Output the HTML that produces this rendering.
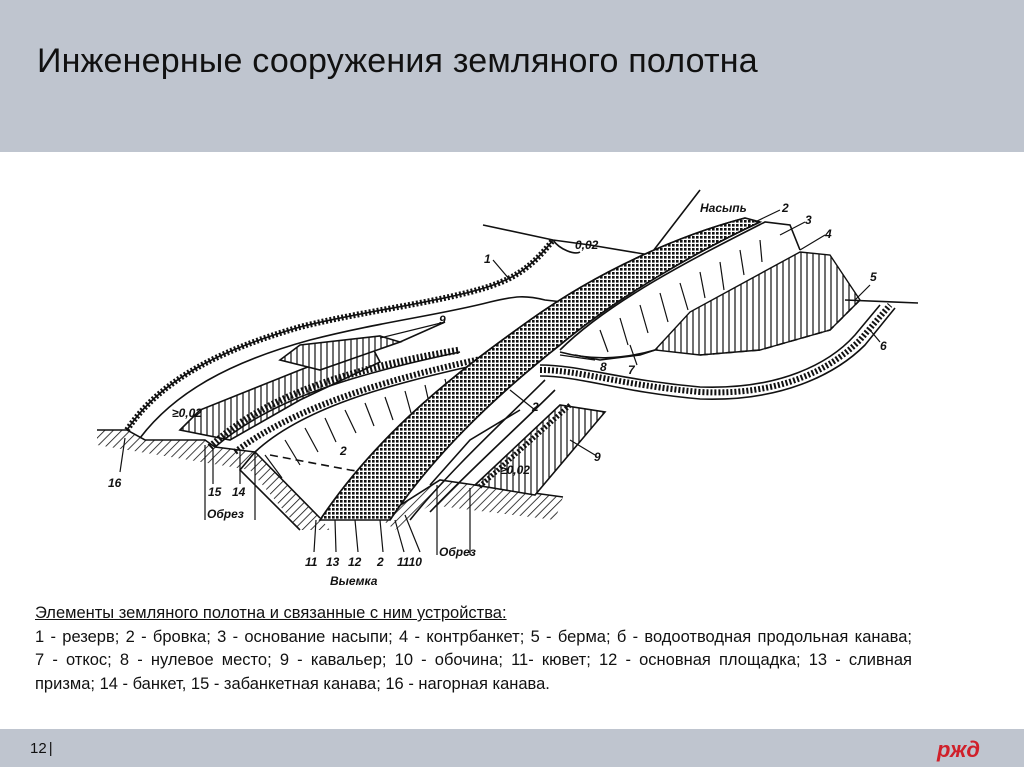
<!DOCTYPE html>
<html><head><meta charset="utf-8">
<style>
html,body{margin:0;padding:0;width:1024px;height:767px;overflow:hidden;background:#fff;font-family:"Liberation Sans","DejaVu Sans",sans-serif;}
#hdr{position:absolute;left:0;top:0;width:1024px;height:152px;background:#bfc5cf;}
#title{position:absolute;left:37px;top:42px;font-size:34px;color:#111;white-space:nowrap;letter-spacing:0.2px}
#ftr{position:absolute;left:0;top:729px;width:1024px;height:38px;background:#bfc5cf;}
#num{position:absolute;left:30px;top:740px;font-size:15px;color:#111}
.cap{position:absolute;left:35px;width:877px;font-size:16.5px;color:#111;white-space:nowrap;}
.j{text-align:justify;text-align-last:justify;}
svg{position:absolute;left:0;top:0}
.lb{font-family:"Liberation Sans",sans-serif;font-style:italic;font-weight:bold;font-size:12px;fill:#111}
</style></head><body>
<div id="hdr"><div id="title">Инженерные сооружения земляного полотна</div></div>

<svg width="1024" height="767" viewBox="0 0 1024 767">
<defs>
<pattern id="h" width="6" height="6" patternUnits="userSpaceOnUse" patternTransform="rotate(45)">
<line x1="0" y1="0" x2="0" y2="6" stroke="#111" stroke-width="1.6"/></pattern>
<pattern id="d" width="4" height="4" patternUnits="userSpaceOnUse">
<rect width="4" height="4" fill="#fff"/><rect width="2.6" height="2.6" fill="#111"/></pattern>
<pattern id="t" width="6" height="6" patternUnits="userSpaceOnUse">
<rect width="6" height="6" fill="#fff"/><line x1="3" y1="0" x2="3" y2="6" stroke="#111" stroke-width="1.2"/></pattern>
</defs>
<g fill="none" stroke="#111" stroke-width="1.6">
<path d="M97,430 L127,430 L145,440 L205,440 L215,447 L240,450 L255,452 L320,518 L330,530 L300,530 L250,470 L97,445 Z" fill="url(#h)" stroke="none"/>
<path d="M97,430 L127,430 L145,440 L205,440 L215,447 L255,452 L320,518"/>
<path d="M255,452 L240,470 L300,530" />
<path d="M380,518 L440,480 L475,485 L563,497 L555,520 L430,505 L395,530 Z" fill="url(#h)" stroke="none"/>
<path d="M380,518 L440,480 L475,485 L563,497"/>
<path d="M127,430 C160,380 220,350 300,327 C360,312 420,305 470,292 C510,282 530,270 553,240" stroke-width="6" stroke="#111" stroke-dasharray="2 2"/>
<path d="M127,430 C160,380 220,350 300,327 C360,312 420,305 470,292 C510,282 530,270 553,240"/>
<path d="M140,438 C175,392 230,362 310,340 C380,322 440,315 490,302 C515,296 525,295 545,300 L590,305 L640,258"/>
<path d="M483,225 L553,240 L590,245 L650,255 L700,190"/>
<path d="M553,240 C560,250 575,255 580,252"/>
<path d="M180,430 L200,410 L300,370 L370,343 L380,362 L300,400 L230,440 Z" fill="url(#t)"/>
<path d="M280,360 L300,345 L380,336 L400,342 L320,370 Z" fill="url(#t)"/>
<path d="M400,342 L445,322"/>
<path d="M210,447 C260,400 340,370 460,350" stroke-width="7" stroke-dasharray="2 2"/>
<path d="M215,447 C270,400 350,375 460,352"/>
<path d="M235,452 C290,410 380,380 490,357" stroke-width="6" stroke-dasharray="2 2"/>
<path d="M255,452 C300,410 380,385 500,360 C540,345 560,320 575,300"/>
<g stroke-width="1.2">
<path d="M265,455 L282,478 M285,440 L300,465 M305,428 L318,452 M325,418 L336,442 M345,410 L356,433 M365,403 L374,426 M385,397 L393,420 M405,391 L411,413 M425,385 L430,407 M445,379 L450,400 M465,373 L469,394"/>
</g>
<path d="M270,455 L350,470 L420,480" stroke-dasharray="8 5"/>
<path d="M320,520 C380,430 460,370 530,320 C600,270 680,235 745,218 L760,222 C700,250 620,295 560,345 C490,400 430,460 390,520 Z" fill="url(#d)"/>
<path d="M320,520 C380,430 460,370 530,320 C600,270 680,235 745,218"/>
<path d="M390,520 C430,460 490,400 560,345 C620,295 700,250 760,222"/>
<path d="M410,520 C450,470 505,420 545,380 M430,512 C470,470 520,425 555,390"/>
<path d="M560,350 C610,300 700,255 765,222 L790,225 L800,250"/>
<path d="M575,355 L600,360 L640,355 L655,350"/>
<g stroke-width="1.2">
<path d="M600,330 L608,352 M620,318 L628,345 M640,305 L648,333 M660,293 L668,322 M680,283 L688,310 M700,272 L705,298 M720,262 L724,290 M740,250 L744,275 M760,240 L762,262"/>
</g>
<path d="M655,350 L690,312 L800,252 L830,255 L860,300 L830,330 L760,350 L700,355 Z" fill="url(#t)" stroke-width="1.4"/>
<path d="M700,355 L760,350 L830,330 L860,300" stroke-dasharray="8 5"/>
<path d="M845,300 L918,303"/>
<path d="M540,370 C580,370 620,385 700,392 C780,396 830,370 860,340 L890,305" stroke-width="6" stroke-dasharray="2 2"/>
<path d="M540,365 C580,365 620,380 700,387 C780,390 830,363 855,335 L880,305"/>
<path d="M540,376 C580,376 620,392 700,399 C780,402 835,375 865,345 L895,308"/>
<path d="M655,350 C620,360 590,360 560,352"/>
<path d="M475,485 L560,405 L605,412 L535,495 Z" fill="url(#t)"/>
<path d="M570,405 L478,488" stroke-width="5" stroke-dasharray="2 2"/>
<path d="M430,485 L470,440 L520,410"/>
<g stroke-width="1.2">
<path d="M125,438 L120,472 M205,445 L205,520 M213,448 L213,484 M240,452 L240,484 M255,452 L255,520"/>
<path d="M316,520 L314,552 M335,520 L336,552 M355,520 L358,552 M380,520 L383,552 M395,520 L404,552 M405,515 L420,552"/>
<path d="M437,485 L437,555 M470,488 L470,555"/>
<path d="M445,322 L380,338 M595,360 L560,355 M637,365 L630,345 M535,410 L510,390 M595,455 L570,440"/>
<path d="M780,210 L755,222 M805,222 L780,235 M825,235 L800,250 M870,285 L855,300 M880,342 L870,330 M493,260 L510,280"/>
</g>
</g>
<g class="lb">
<text x="700" y="212" class="lb">Насыпь</text>
<text x="782" y="212" class="lb">2</text>
<text x="805" y="224" class="lb">3</text>
<text x="825" y="238" class="lb">4</text>
<text x="870" y="281" class="lb">5</text>
<text x="880" y="350" class="lb">6</text>
<text x="628" y="374" class="lb">7</text>
<text x="600" y="371" class="lb">8</text>
<text x="439" y="324" class="lb">9</text>
<text x="484" y="263" class="lb">1</text>
<text x="575" y="249" class="lb">0,02</text>
<text x="532" y="411" class="lb">2</text>
<text x="594" y="461" class="lb">9</text>
<text x="500" y="474" class="lb">≥0,02</text>
<text x="172" y="417" class="lb">≥0,02</text>
<text x="340" y="455" class="lb">2</text>
<text x="108" y="487" class="lb">16</text>
<text x="208" y="496" class="lb">15</text>
<text x="232" y="496" class="lb">14</text>
<text x="207" y="518" class="lb">Обрез</text>
<text x="305" y="566" class="lb">11</text>
<text x="326" y="566" class="lb">13</text>
<text x="348" y="566" class="lb">12</text>
<text x="377" y="566" class="lb">2</text>
<text x="397" y="566" class="lb">1110</text>
<text x="330" y="585" class="lb">Выемка</text>
<text x="439" y="556" class="lb">Обрез</text>
</g>
</svg>

<div class="cap" style="top:604px;text-decoration:underline">Элементы земляного полотна и связанные с ним устройства:</div>
<div class="cap j" style="top:628px">1 - резерв; 2 - бровка; 3 - основание насыпи; 4 - контрбанкет; 5 - берма; б - водоотводная продольная канава;</div>
<div class="cap j" style="top:651px">7 - откос; 8 - нулевое место; 9 - кавальер; 10 - обочина; 11- кювет; 12 - основная площадка; 13 - сливная</div>
<div class="cap" style="top:675px">призма; 14 - банкет, 15 - забанкетная канава; 16 - нагорная канава.</div>

<div id="ftr"></div>
<div id="num">12<span style="margin-left:2px">|</span></div>
<svg width="1024" height="767" style="pointer-events:none">
<text x="937" y="757" font-family="Liberation Sans,sans-serif" font-style="italic" font-weight="bold" font-size="22" fill="#d0202a">ржд</text>
</svg>
</body></html>
